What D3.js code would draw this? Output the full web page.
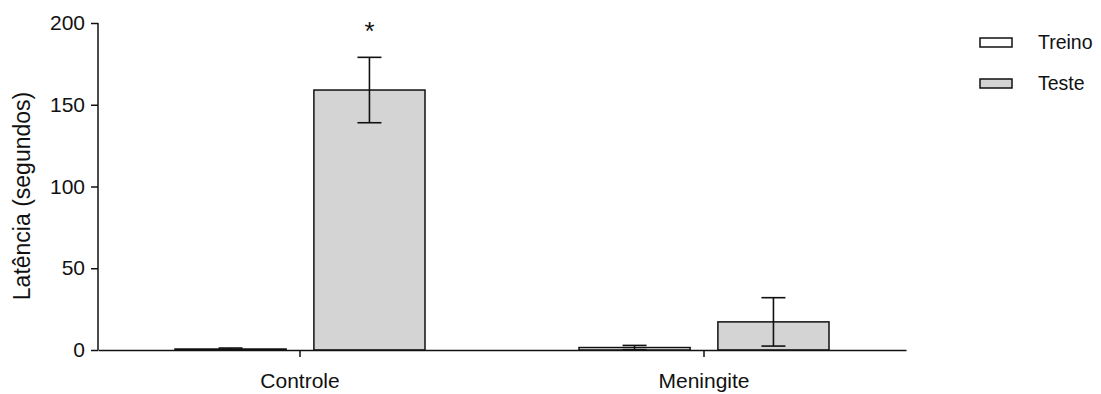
<!DOCTYPE html>
<html>
<head>
<meta charset="utf-8">
<script src="https://cdn.jsdelivr.net/npm/d3@7"></script>
<style>
  body { margin: 0; background: #fff; }
  text { font-family: "Liberation Sans", Arial, sans-serif; }
</style>
</head>
<body>
<div id="container"></div>
<script>
// Data
var groups = ["Controle", "Meningite"];
var series = ["Treino", "Teste"];
var treinoMean = [0.6, 1.5];
var treinoErr = [0.6, 1.3];
var testeMean = [159, 17.2];
var testeErr = [20, 14.8];
var yTicks = [0, 50, 100, 150, 200];
var seriesFill = ["#ffffff", "#d4d4d4"];

// Set width and height
var width = 1101,
    height = 394;

var margin = {left: 98, right: 195, top: 23, bottom: 44};

var svg = d3.select("#container")
            .append("svg")
              .attr("width", width)
              .attr("height", height);

// Scales
var x0 = d3.scaleBand()
           .domain(groups)
           .range([margin.left, width - margin.right]);

var x1 = d3.scaleBand()
           .domain(series)
           .range([77, x0.bandwidth() - 77])
           .paddingInner(0.2);

var y = d3.scaleLinear()
          .domain([0, 200])
          .range([height - margin.bottom, margin.top]);

// Build rows for the bars
var rows = [];
groups.forEach(function(g, i) {
  rows.push({group: g, series: "Treino", mean: treinoMean[i], err: treinoErr[i]});
  rows.push({group: g, series: "Teste", mean: testeMean[i], err: testeErr[i]});
});

var color = d3.scaleOrdinal()
              .domain(series)
              .range(seriesFill);

// Bars
svg.selectAll("rect.bar")
    .data(rows)
    .enter()
    .append("rect")
      .attr("class", "bar")
      .attr("x", function(d) { return x0(d.group) + x1(d.series); })
      .attr("y", function(d) { return y(d.mean); })
      .attr("width", x1.bandwidth())
      .attr("height", function(d) { return y(0) - y(d.mean); })
      .attr("fill", function(d) { return color(d.series); })
      .attr("stroke", "#111")
      .attr("stroke-width", 1.5);

// Error bars
var cx = function(d) { return x0(d.group) + x1(d.series) + x1.bandwidth() / 2; };
var capW = 12;

var err = svg.selectAll("g.err")
    .data(rows)
    .enter()
    .append("g")
      .attr("class", "err")
      .attr("stroke", "#111")
      .attr("stroke-width", 1.6);

err.append("line")
    .attr("x1", cx).attr("x2", cx)
    .attr("y1", function(d) { return y(d.mean + d.err); })
    .attr("y2", function(d) { return y(Math.max(0, d.mean - d.err)); });

err.append("line")
    .attr("x1", function(d) { return cx(d) - capW; })
    .attr("x2", function(d) { return cx(d) + capW; })
    .attr("y1", function(d) { return y(d.mean + d.err); })
    .attr("y2", function(d) { return y(d.mean + d.err); });

err.append("line")
    .attr("x1", function(d) { return cx(d) - capW; })
    .attr("x2", function(d) { return cx(d) + capW; })
    .attr("y1", function(d) { return y(Math.max(0, d.mean - d.err)); })
    .attr("y2", function(d) { return y(Math.max(0, d.mean - d.err)); });

// Significance star over Controle Teste
svg.append("text")
    .attr("x", x0("Controle") + x1("Teste") + x1.bandwidth() / 2)
    .attr("y", 40)
    .attr("text-anchor", "middle")
    .attr("fill", "#111")
    .style("font-size", "26px")
    .text("*");

// Y axis
var yAxis = svg.append("g")
    .attr("transform", "translate(" + margin.left + ",0)")
    .call(d3.axisLeft(y).tickValues(yTicks).tickSize(7).tickPadding(6).tickFormat(d3.format("d")));

// X axis
var xAxis = svg.append("g")
    .attr("transform", "translate(0," + y(0) + ")")
    .call(d3.axisBottom(x0).tickSize(7).tickPadding(16).tickSizeOuter(0));

[yAxis, xAxis].forEach(function(a) {
  a.select(".domain").attr("stroke", "#111").attr("stroke-width", 1.5);
  a.selectAll(".tick line").attr("stroke", "#111").attr("stroke-width", 1.5);
  a.selectAll(".tick text").attr("fill", "#111").style("font-size", "21px");
});
yAxis.select(".domain").attr("d", "M0," + y(200) + "V" + y(0));

// Y label
svg.append("text")
    .attr("transform", "translate(30,196) rotate(-90)")
    .attr("text-anchor", "middle")
    .attr("fill", "#111")
    .style("font-size", "23px")
    .text("Latência (segundos)");

// Legend
var legend = svg.selectAll("g.legend")
    .data(series)
    .enter()
    .append("g")
      .attr("class", "legend")
      .attr("transform", function(d, i) { return "translate(980," + (38 + i * 41) + ")"; });

legend.append("rect")
    .attr("width", 32)
    .attr("height", 9)
    .attr("fill", function(d) { return color(d); })
    .attr("stroke", "#111")
    .attr("stroke-width", 1.5);

legend.append("text")
    .attr("x", 58)
    .attr("y", 4.5)
    .attr("dy", "0.35em")
    .attr("fill", "#111")
    .style("font-size", "19.5px")
    .text(function(d) { return d; });
</script>
</body>
</html>
